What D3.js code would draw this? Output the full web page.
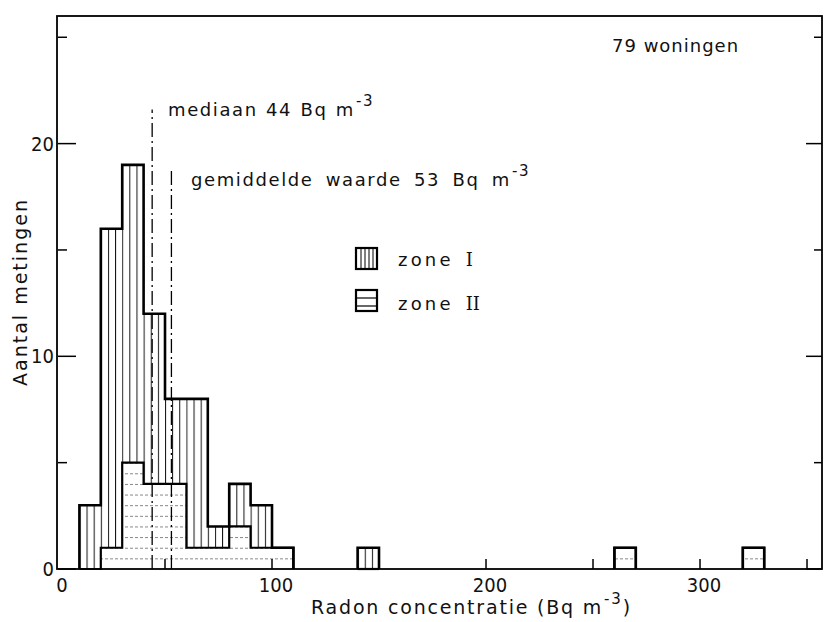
<!DOCTYPE html>
<html>
  <head>
    <meta charset='utf-8'>
    <script src='https://d3js.org/d3.v7.min.js'></script>
    <style>
body { margin: 0; background: #fff; }
text { font-family: 'DejaVu Sans', sans-serif; fill: #111; }
.tick-label { font-family: 'DejaVu Sans Condensed', 'DejaVu Sans', sans-serif; font-size: 20px; }
.note { font-size: 18px; letter-spacing: 1.6px; }
    </style>
  </head>
  <body>
    <svg id='chart' width='826' height='622'></svg>
    <script>
        // histogram bins (lower edge, Bq m-3), width 10
        const binStart = [10, 20, 30, 40, 50, 60, 70, 80, 90, 100, 140, 260, 320];
        const zoneI    = [3, 15, 14, 8, 4, 7, 1, 2, 2, 0, 1, 0, 0];
        const zoneII   = [0, 1, 5, 4, 4, 1, 1, 2, 1, 1, 0, 1, 1];
        const binWidth = 10;
        const median = 44, medianTop = 21.6;
        const mean = 53, meanTop = 18.8;
        const xTickLabels = [0, 100, 200, 300];
        const yTickLabels = [0, 10, 20];

        const svg = d3.select('#chart');
        const x = d3.scaleLinear().domain([0, 357]).range([58, 822]);
        const y = d3.scaleLinear().domain([0, 26]).range([569, 16]);

        const rows = binStart.map((b, i) => ({ b: b, z1: zoneI[i], z2: zoneII[i] }));
        const stacked = d3.stack().keys(['z2', 'z1'])(rows);

        // hatch patterns
        const defs = svg.append('defs');
        const pw = x(binWidth / 3) - x(0);
        const vp = defs.append('pattern').attr('id', 'vhatch')
            .attr('patternUnits', 'userSpaceOnUse')
            .attr('x', x(0)).attr('y', 0)
            .attr('width', pw).attr('height', 20);
        vp.append('line').attr('x1', 0.5).attr('x2', 0.5).attr('y1', 0).attr('y2', 20)
            .attr('stroke', '#111').attr('stroke-width', 1);

        const ph = y(0) - y(0.5);
        const hp = defs.append('pattern').attr('id', 'hhatch')
            .attr('patternUnits', 'userSpaceOnUse')
            .attr('x', 0).attr('y', y(0))
            .attr('width', 20).attr('height', ph);
        hp.append('line').attr('x1', 0).attr('x2', 20).attr('y1', 0.5).attr('y2', 0.5)
            .attr('stroke', '#777').attr('stroke-width', 0.9)
            .attr('stroke-dasharray', '3,2');

        // bars
        const fills = { z2: 'url(#hhatch)', z1: 'url(#vhatch)' };
        svg.append('g').selectAll('g')
            .data(stacked)
            .join('g')
              .attr('fill', d => fills[d.key])
            .selectAll('rect')
            .data(d => d)
            .join('rect')
              .attr('x', d => x(d.data.b))
              .attr('width', d => x(d.data.b + binWidth) - x(d.data.b))
              .attr('y', d => y(d[1]))
              .attr('height', d => y(d[0]) - y(d[1]));

        // step outlines
        function groups() {
            const out = [];
            let cur = [];
            rows.forEach((r, i) => {
                if (cur.length && r.b !== rows[i - 1].b + binWidth) { out.push(cur); cur = []; }
                cur.push(r);
            });
            out.push(cur);
            return out;
        }
        const line = d3.line().x(d => x(d[0])).y(d => y(d[1]));
        function stepPoints(g, val) {
            const pts = [[g[0].b, 0]];
            g.forEach(r => { pts.push([r.b, val(r)]); pts.push([r.b + binWidth, val(r)]); });
            pts.push([g[g.length - 1].b + binWidth, 0]);
            return pts;
        }
        const outlines = svg.append('g').attr('fill', 'none').attr('stroke', '#000')
            .attr('stroke-linejoin', 'miter');
        groups().forEach(g => {
            outlines.append('path').attr('d', line(stepPoints(g, r => r.z2)))
                .attr('stroke-width', 2.2);
            outlines.append('path').attr('d', line(stepPoints(g, r => r.z1 + r.z2)))
                .attr('stroke-width', 2.6);
        });

        // median and mean lines
        svg.append('g').selectAll('line')
            .data([[median, medianTop], [mean, meanTop]])
            .join('line')
              .attr('x1', d => x(d[0])).attr('x2', d => x(d[0]))
              .attr('y1', y(0)).attr('y2', d => y(d[1]))
              .attr('stroke', '#000').attr('stroke-width', 1.3)
              .attr('stroke-dasharray', '14,4,2,4');

        // frame
        svg.append('rect')
            .attr('x', x(0) - 1).attr('y', y(26))
            .attr('width', x(357) - x(0) + 1).attr('height', y(0) - y(26))
            .attr('fill', 'none').attr('stroke', '#000').attr('stroke-width', 1.8);

        // y ticks, both sides, inward
        const yt = d3.range(0, 26, 5);
        svg.append('g').selectAll('line').data(yt).join('line')
            .attr('x1', x(0)).attr('x2', d => x(0) + (d % 10 === 0 ? 18 : 9))
            .attr('y1', d => y(d)).attr('y2', d => y(d))
            .attr('stroke', '#000').attr('stroke-width', 1.5);
        svg.append('g').selectAll('line').data(yt).join('line')
            .attr('x1', x(357)).attr('x2', d => x(357) - (d % 10 === 0 ? 16 : 8))
            .attr('y1', d => y(d)).attr('y2', d => y(d))
            .attr('stroke', '#000').attr('stroke-width', 1.5);
        svg.append('g').selectAll('text').data(yTickLabels).join('text')
            .attr('class', 'tick-label')
            .attr('x', x(0) - 4).attr('y', d => y(d) + 7)
            .attr('text-anchor', 'end')
            .text(d => d);

        // x ticks, inward
        svg.append('g').selectAll('line').data(d3.range(50, 357, 50)).join('line')
            .attr('x1', d => x(d)).attr('x2', d => x(d))
            .attr('y1', y(0)).attr('y2', y(0) - 10)
            .attr('stroke', '#000').attr('stroke-width', 1.5);
        svg.append('g').selectAll('text').data(xTickLabels).join('text')
            .attr('class', 'tick-label')
            .attr('x', d => x(d) + 4).attr('y', y(0) + 23)
            .attr('text-anchor', 'middle')
            .text(d => d);

        // axis titles
        const xt = svg.append('text').attr('class', 'note')
            .attr('x', 311).attr('y', 614)
            .style('font-size', '19px').style('letter-spacing', '1.8px');
        xt.append('tspan').text('Radon concentratie (Bq m');
        xt.append('tspan').attr('dx', 1).attr('dy', -10).style('font-size', '15px').text('-3');
        xt.append('tspan').attr('dy', 10).text(')');

        svg.append('text').attr('class', 'note')
            .attr('transform', 'translate(27,292) rotate(-90)')
            .attr('text-anchor', 'middle')
            .style('font-size', '19px').style('letter-spacing', '2px')
            .text('Aantal metingen');

        // annotations
        function note(tx, ty, label, ws) {
            const t = svg.append('text').attr('class', 'note').attr('x', tx).attr('y', ty)
                .style('word-spacing', ws + 'px');
            t.append('tspan').text(label);
            t.append('tspan').attr('dx', 1).attr('dy', -10).style('font-size', '15px').text('-3');
        }
        note(168, 116, 'mediaan 44 Bq m', 1);
        note(191, 186, 'gemiddelde waarde 53 Bq m', 5);

        svg.append('text').attr('class', 'note')
            .attr('x', 612).attr('y', 52).style('letter-spacing', '1px').text('79 woningen');

        // legend
        const lg = svg.append('g');
        const box1 = lg.append('g').attr('transform', 'translate(356,248)');
        box1.append('rect').attr('width', 21).attr('height', 21)
            .attr('fill', 'none').attr('stroke', '#000').attr('stroke-width', 2.2);
        box1.selectAll('line').data([5, 9, 13, 17]).join('line')
            .attr('x1', d => d).attr('x2', d => d).attr('y1', 0).attr('y2', 21)
            .attr('stroke', '#000').attr('stroke-width', 1);
        const box2 = lg.append('g').attr('transform', 'translate(356,290)');
        box2.append('rect').attr('width', 21).attr('height', 21)
            .attr('fill', 'none').attr('stroke', '#000').attr('stroke-width', 2.2);
        box2.selectAll('line').data([8, 16]).join('line')
            .attr('x1', 0).attr('x2', 21).attr('y1', d => d).attr('y2', d => d)
            .attr('stroke', '#000').attr('stroke-width', 1.2);

        const legendText = [['zone', 'I', 266], ['zone', 'II', 310]];
        legendText.forEach(d => {
            const t = lg.append('text').attr('class', 'note')
                .attr('x', 398).attr('y', d[2]).style('letter-spacing', '3.2px');
            t.append('tspan').text(d[0]);
            t.append('tspan').attr('dx', 12)
                .style('font-family', "'DejaVu Serif', serif").style('letter-spacing', '0px').text(d[1]);
        });
    </script>
  </body>
</html>
